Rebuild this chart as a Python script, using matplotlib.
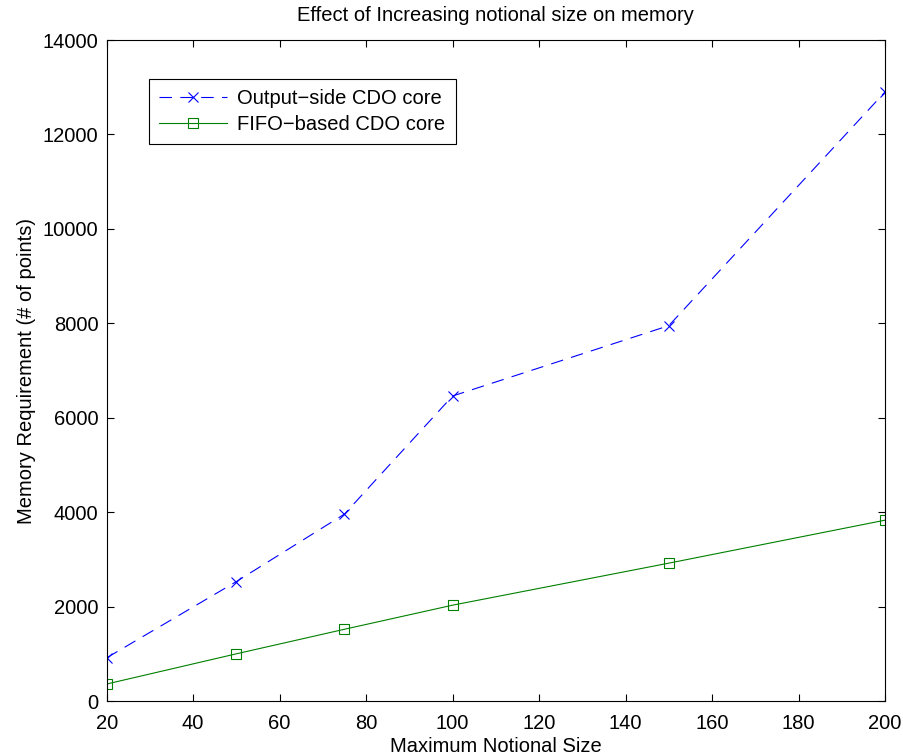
import matplotlib
matplotlib.use("Agg")
import matplotlib.pyplot as plt

# values
notional_size = [20, 50, 75, 100, 150, 200]
output_side = [915, 2530, 3960, 6460, 7950, 12900]
fifo_based = [360, 1000, 1520, 2030, 2920, 3830]

x_ticks = [20, 40, 60, 80, 100, 120, 140, 160, 180, 200]
y_ticks = [0, 2000, 4000, 6000, 8000, 10000, 12000, 14000]

plt.rcParams['font.family'] = ['Liberation Sans', 'DejaVu Sans']
plt.rcParams['lines.scale_dashes'] = False
fs = 14.5

fig = plt.figure(figsize=(9.04, 7.55), dpi=100)
ax = fig.add_axes([0.118, 0.0715, 0.861, 0.8755])

ax.plot(notional_size, output_side, color='blue', linestyle=(0, (9, 6)),
        linewidth=0.8, marker='x', markersize=7, markeredgewidth=0.8,
        label='Output\u2212side CDO core')
ax.plot(notional_size, fifo_based, color=(0, 0.5, 0), linestyle='-',
        linewidth=0.8, marker='s', markersize=7, markeredgewidth=0.8,
        markerfacecolor='none', label='FIFO\u2212based CDO core')

ax.set_xlim(20, 200)
ax.set_ylim(0, 14000)
ax.set_xticks(x_ticks)
ax.set_yticks(y_ticks)
ax.tick_params(direction='in', top=True, right=True, length=5, width=0.8,
               labelsize=fs)
ax.tick_params(axis='x', pad=9)
ax.tick_params(axis='y', pad=6)
for s in ax.spines.values():
    s.set_linewidth(0.8)

ax.set_title('Effect of Increasing notional size on memory', fontsize=fs, pad=14)
ax.set_xlabel('Maximum Notional Size', fontsize=fs, labelpad=3)
ax.set_ylabel('Memory Requirement (# of points)', fontsize=fs, labelpad=5)

leg = ax.legend(loc='upper left', bbox_to_anchor=(0.054, 0.941),
                borderaxespad=0, fontsize=fs, fancybox=False,
                edgecolor='black', framealpha=1, handlelength=3.4,
                handletextpad=0.5, borderpad=0.5, labelspacing=0.35)
leg.get_frame().set_linewidth(0.8)

fig.savefig('out.png', dpi=100)
